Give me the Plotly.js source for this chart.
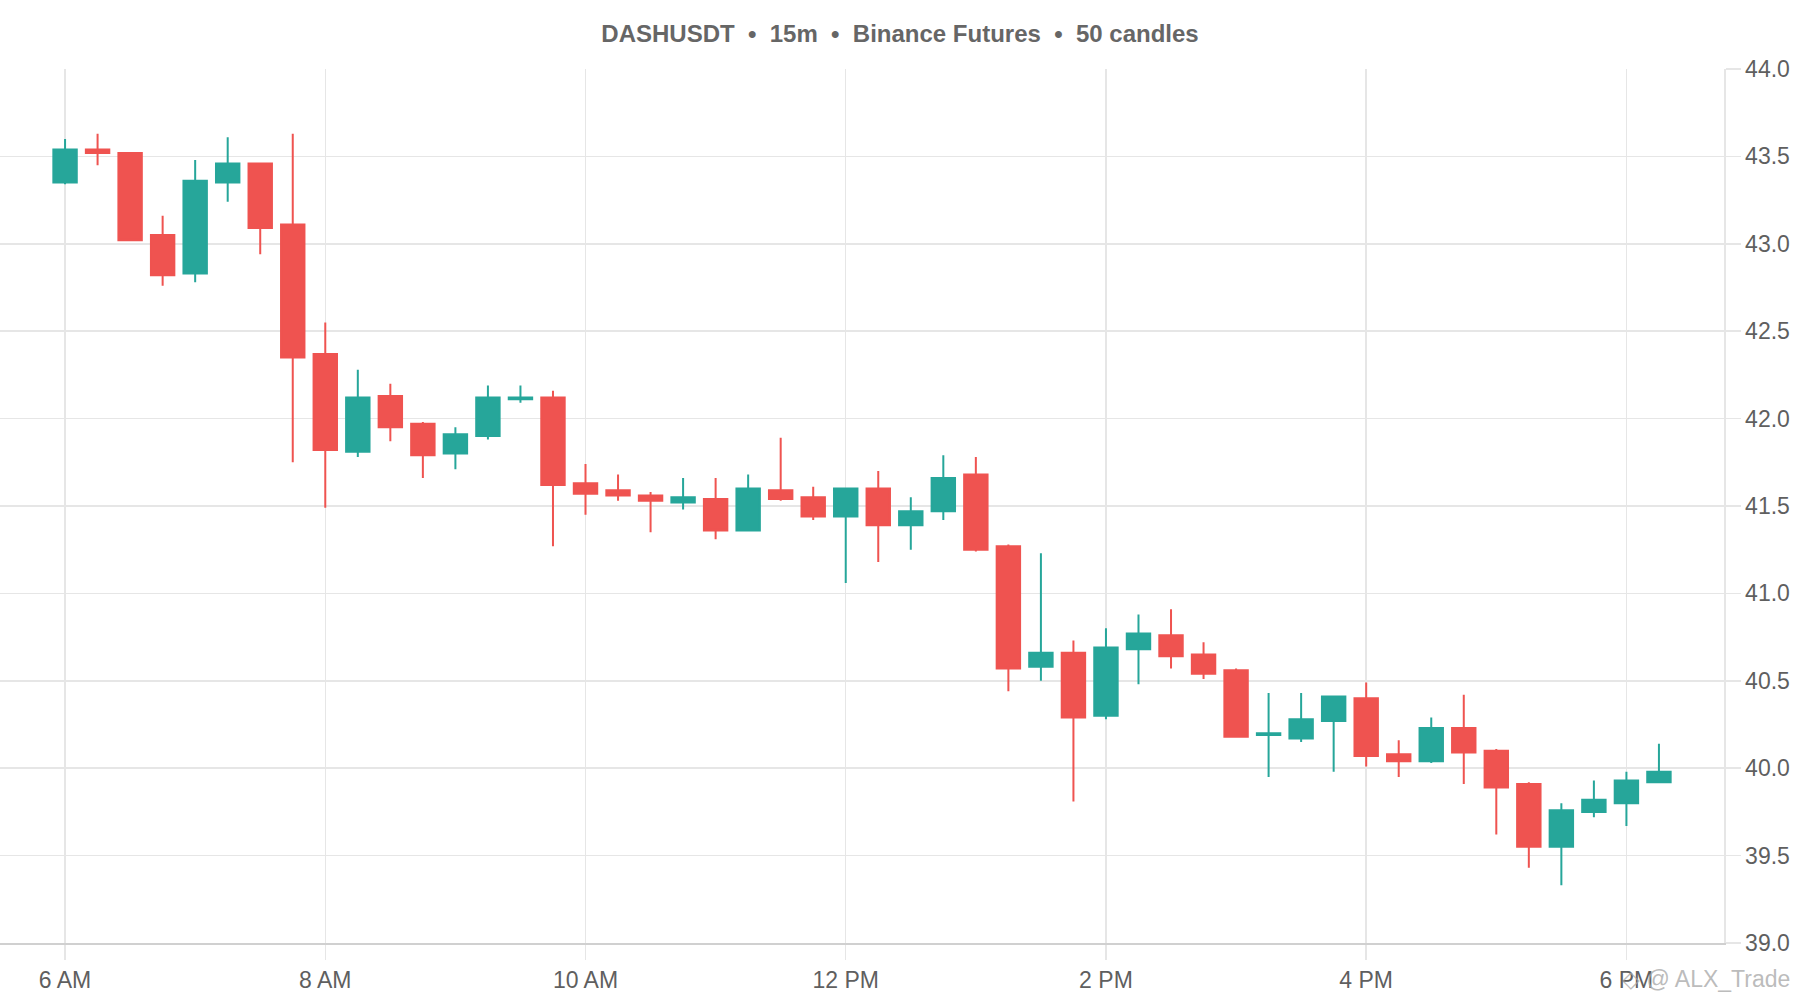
<!DOCTYPE html>
<html>
<head>
<meta charset="utf-8">
<script src="https://cdn.plot.ly/plotly-3.0.1.min.js"></script>
<style>
  html, body { margin: 0; padding: 0; background: #ffffff; }
  #chart { width: 1800px; height: 1000px; }
</style>
</head>
<body>
<div id="chart"></div>
<script>
// ---- Data (DASHUSDT, 15m candles, Binance Futures) ----
const DAY = '2024-01-01';
const times = [
  '06:00','06:15','06:30','06:45','07:00','07:15','07:30','07:45',
  '08:00','08:15','08:30','08:45','09:00','09:15','09:30','09:45',
  '10:00','10:15','10:30','10:45','11:00','11:15','11:30','11:45',
  '12:00','12:15','12:30','12:45','13:00','13:15','13:30','13:45',
  '14:00','14:15','14:30','14:45','15:00','15:15','15:30','15:45',
  '16:00','16:15','16:30','16:45','17:00','17:15','17:30','17:45',
  '18:00','18:15'
];
const open = [
  43.35, 43.54, 43.52, 43.05, 42.83, 43.35, 43.46, 43.11,
  42.37, 41.81, 42.13, 41.97, 41.80, 41.90, 42.11, 42.12,
  41.63, 41.59, 41.56, 41.52, 41.54, 41.36, 41.59, 41.55,
  41.44, 41.60, 41.39, 41.47, 41.68, 41.27, 40.58, 40.66,
  40.30, 40.68, 40.76, 40.65, 40.56, 40.19, 40.17, 40.27,
  40.40, 40.08, 40.04, 40.23, 40.10, 39.91, 39.55, 39.75,
  39.80, 39.92
];
const high = [
  43.60, 43.63, 43.52, 43.16, 43.48, 43.61, 43.46, 43.63,
  42.55, 42.28, 42.20, 41.98, 41.95, 42.19, 42.19, 42.16,
  41.74, 41.68, 41.58, 41.66, 41.66, 41.68, 41.89, 41.61,
  41.60, 41.70, 41.55, 41.79, 41.78, 41.28, 41.23, 40.73,
  40.80, 40.88, 40.91, 40.72, 40.57, 40.43, 40.43, 40.41,
  40.49, 40.16, 40.29, 40.42, 40.11, 39.92, 39.80, 39.93,
  39.98, 40.14
];
const low = [
  43.34, 43.45, 43.02, 42.76, 42.78, 43.24, 42.94, 41.75,
  41.49, 41.78, 41.87, 41.66, 41.71, 41.88, 42.09, 41.27,
  41.45, 41.53, 41.35, 41.48, 41.31, 41.36, 41.53, 41.42,
  41.06, 41.18, 41.25, 41.42, 41.24, 40.44, 40.50, 39.81,
  40.28, 40.48, 40.57, 40.51, 40.18, 39.95, 40.15, 39.98,
  40.01, 39.95, 40.03, 39.91, 39.62, 39.43, 39.33, 39.72,
  39.67, 39.92
];
const close = [
  43.54, 43.52, 43.02, 42.82, 43.36, 43.46, 43.09, 42.35,
  41.82, 42.12, 41.95, 41.79, 41.91, 42.12, 42.12, 41.62,
  41.57, 41.56, 41.53, 41.55, 41.36, 41.60, 41.54, 41.44,
  41.60, 41.39, 41.47, 41.66, 41.25, 40.57, 40.66, 40.29,
  40.69, 40.77, 40.64, 40.54, 40.18, 40.20, 40.28, 40.41,
  40.07, 40.04, 40.23, 40.09, 39.89, 39.55, 39.76, 39.82,
  39.93, 39.98
];
const priceTicks = [39.0, 39.5, 40.0, 40.5, 41.0, 41.5, 42.0, 42.5, 43.0, 43.5, 44.0];
const titleText = 'DASHUSDT  \u2022  15m  \u2022  Binance Futures  \u2022  50 candles';
const watermark = '\u25C7 @ ALX_Trade';

const x = times.map(t => DAY + ' ' + t);

const UP = '#26a69a';
const DOWN = '#ef5350';
const GRID = '#e6e6e6';
const TXT = '#5f5f5f';
const FONT = 'Liberation Sans, Arial, Helvetica, sans-serif';

const trace = {
  type: 'candlestick',
  x: x,
  open: open,
  high: high,
  low: low,
  close: close,
  increasing: { line: { color: UP, width: 2 }, fillcolor: UP },
  decreasing: { line: { color: DOWN, width: 2 }, fillcolor: DOWN },
  whiskerwidth: 0,
  showlegend: false,
  hoverinfo: 'x+y'
};

const layout = {
  width: 1800,
  height: 1000,
  paper_bgcolor: '#ffffff',
  plot_bgcolor: '#ffffff',
  margin: { l: 0, r: 76, t: 69, b: 57, pad: 0 },
  showlegend: false,
  boxgap: 0.1,
  boxgroupgap: 0.2,
  font: { family: FONT, color: TXT, size: 23 },
  title: {
    text: '<b>' + titleText + '</b>',
    x: 0.5,
    xref: 'container',
    xanchor: 'center',
    y: 0.966,
    yref: 'container',
    yanchor: 'middle',
    font: { family: FONT, size: 24, color: '#666666' }
  },
  xaxis: {
    type: 'date',
    range: [DAY + ' 05:30', DAY + ' 18:45'],
    rangeslider: { visible: false },
    tick0: DAY + ' 06:00',
    dtick: 2 * 60 * 60 * 1000,
    tickformat: '%-I %p',
    showgrid: true,
    gridcolor: GRID,
    gridwidth: 1.5,
    ticks: 'outside',
    ticklen: 15,
    tickwidth: 1.5,
    tickcolor: GRID,
    showline: true,
    linecolor: '#d0d0d0',
    linewidth: 2,
    zeroline: false,
    tickfont: { family: FONT, size: 23, color: TXT },
    fixedrange: true
  },
  yaxis: {
    side: 'right',
    range: [39, 44],
    tickmode: 'array',
    tickvals: priceTicks,
    ticktext: priceTicks.map(v => v.toFixed(1)),
    showgrid: true,
    gridcolor: GRID,
    gridwidth: 1.5,
    ticks: 'outside',
    ticklen: 15,
    tickwidth: 1.5,
    tickcolor: GRID,
    showline: true,
    linecolor: GRID,
    linewidth: 1.5,
    zeroline: false,
    tickfont: { family: FONT, size: 23, color: TXT },
    fixedrange: true
  },
  annotations: [
    {
      text: watermark,
      xref: 'paper', yref: 'paper',
      x: 1.0395, y: -0.041,
      xanchor: 'right', yanchor: 'middle',
      showarrow: false,
      font: { family: FONT, size: 23, color: 'rgba(170,170,170,0.8)' }
    }
  ]
};

Plotly.newPlot('chart', [trace], layout, { displayModeBar: false, staticPlot: true });
</script>
</body>
</html>
